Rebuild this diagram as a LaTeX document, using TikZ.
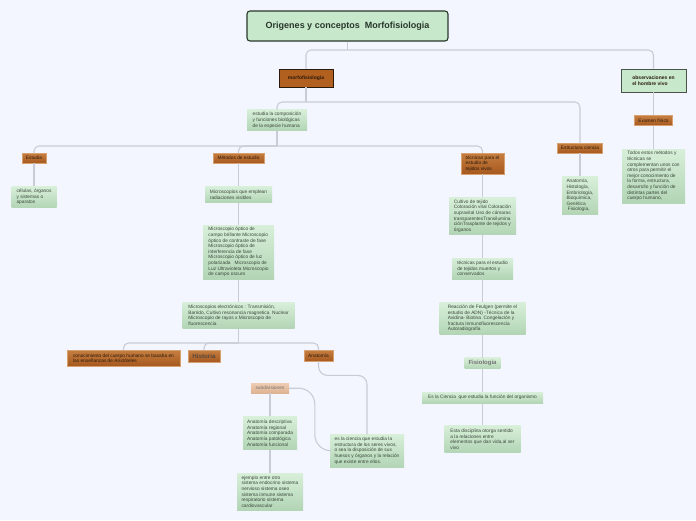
\documentclass[tikz,border=0pt]{standalone}
\usepackage{fontspec}
\setmainfont{Liberation Sans}
\usepackage{xcolor}
\usepackage{tikz}
\usetikzlibrary{positioning}
\definecolor{mapbg}{RGB}{243,246,254}
\definecolor{maptitle}{RGB}{200,232,204}
\definecolor{mapedge}{RGB}{40,54,42}
\definecolor{leaftop}{RGB}{216,239,217}
\definecolor{leafbot}{RGB}{178,213,181}
\definecolor{rusttop}{RGB}{198,126,64}
\definecolor{rustbot}{RGB}{166,88,30}
\definecolor{rustline}{RGB}{214,160,112}
\definecolor{rustdark}{RGB}{178,96,32}
\definecolor{peachtop}{RGB}{238,204,178}
\definecolor{peachbot}{RGB}{222,178,146}
\definecolor{linkgray}{RGB}{200,204,214}
\definecolor{inkgreen}{RGB}{58,72,58}
\definecolor{inkbrown}{RGB}{42,26,12}
\tikzstyle{titlebox} = [rectangle, rounded corners=3pt,
fill=maptitle, draw=mapedge, line width=1.1pt,
minimum width=201pt, minimum height=30pt,
font=\fontsize{9}{11}\selectfont\bfseries, text=mapedge]
\tikzstyle{rootbox} = [rectangle, fill=rustdark, draw=inkbrown, line width=0.9pt,
font=\fontsize{5}{6}\selectfont\bfseries, text=inkbrown]
\tikzstyle{viewbox} = [rectangle, fill=maptitle, draw=mapedge!85, line width=0.9pt,
align=left, font=\fontsize{5}{5.8}\selectfont\bfseries, text=inkbrown]
\tikzstyle{rustbox} = [rectangle, top color=rusttop, bottom color=rustbot,
draw=rustline, line width=0.4pt, inner sep=1.5pt,
align=left, font=\fontsize{4.8}{5.6}\selectfont, text=inkbrown]
\tikzstyle{peachbox} = [rectangle, top color=peachtop, bottom color=peachbot,
inner sep=1.5pt, font=\fontsize{4.8}{5.6}\selectfont, text=black!55]
\tikzstyle{leafbox} = [rectangle, top color=leaftop, bottom color=leafbot,
inner xsep=3pt, inner ysep=2pt,
align=left, font=\fontsize{4.8}{5.6}\selectfont, text=inkgreen]
\tikzstyle{link} = [draw=linkgray, line width=1.1pt, rounded corners=5pt]

\begin{document}
\begin{tikzpicture}[x=1pt, y=1pt, node distance=23pt]
    \fill[mapbg] (0,0) rectangle (696,-520);
    \useasboundingbox (0,0) rectangle (696,-520);

    \node (title) [titlebox] at (347.5,-26) {Origenes y conceptos~ Morfofisiologia};
    \node (morfo) [rootbox, minimum width=54pt, minimum height=18pt] at (306,-78)
    {morfofisiologia};
    \node (obs) [viewbox, minimum width=65pt, minimum height=23pt] at (653.5,-80.5)
    {observaciones en\\el hombre vivo};
    \node (comp) [leafbox, minimum width=60pt, minimum height=21pt,
    below=22pt of morfo, xshift=-29pt]
    {estudia la composición\\y funciones biológicas\\de la especie humana};

    % second row
    \node (estudia) [rustbox, minimum width=24pt, minimum height=10pt, anchor=north]
    at (34,-153) {Estudia};
    \node (metodos) [rustbox, minimum width=51pt, minimum height=10pt, anchor=north]
    at (238.5,-153) {Métodos de estudio};
    \node (vivos) [rustbox, minimum width=43pt, minimum height=21pt, anchor=north]
    at (482.5,-153) {técnicas para el\\estudio de\\tejidos vivos};
    \node (estr) [rustbox, minimum width=45pt, minimum height=10pt, anchor=north]
    at (580,-143) {Estructura ciencia};
    \node (examen) [rustbox, minimum width=38pt, minimum height=10pt, below=of obs]
    {Examen físico};

    \node (celulas) [leafbox, minimum width=45pt, minimum height=21pt, below=of estudia]
    {células, órganos\\y sistemas o\\aparatos};
    \node (visibles) [leafbox, minimum width=67pt, minimum height=16pt, below=of metodos]
    {Microscopios que emplean\\radiaciones visibles};
    \node (optico) [leafbox, minimum width=71pt, minimum height=54pt, below=22pt of visibles]
    {Microscopio óptico de\\campo brillante Microscopio\\óptico de contraste de fase\\
    Microscopio óptico de\\interferencia de fase\\Microscopio óptico de luz\\
    polarizada~ ~Microscopio de\\Luz Ultravioleta Microscopio\\de campo oscuro};
    \node (electro) [leafbox, minimum width=112pt, minimum height=26pt, below=of optico]
    {Microscopios electrónicos : Transmisión,\\Barrido, Cultivo resonancia magnetica~ Nuclear\\
    Microscopio de rayos x Microscopio de\\fluorescencia};

    \node (aristo) [rustbox, minimum width=113pt, minimum height=16pt, anchor=north]
    at (123.5,-350) {conocimiento del cuerpo humano se basaba en\\las enseñanzas de Aristóteles};
    \node (historia) [rustbox, font=\fontsize{6.2}{7}\selectfont\bfseries, text=inkbrown!80,
    minimum width=32pt, minimum height=12pt, anchor=north] at (204,-350) {Historia};
    \node (anatomia) [rustbox, minimum width=29pt, minimum height=11pt, anchor=north]
    at (318.5,-350) {Anatomía};

    \node (subdiv) [peachbox, minimum width=38pt, minimum height=10pt, anchor=north]
    at (270,-383) {subdivisiones};
    \node (ramas) [leafbox, minimum width=54pt, minimum height=33pt, below=of subdiv]
    {Anatomía descriptiva\\Anatomía regional\\Anatomía comparada\\Anatomía patológica\\Anatomía funcional};
    \node (sistemas) [leafbox, minimum width=66pt, minimum height=37pt, below=of ramas]
    {ejemplo entre otro\\sistema endocrino sistema\\nervioso sistema oseo\\
    sistema inmune sistema\\respiratorio sistema\\cardiovascular};
    \node (ciencia) [leafbox, minimum width=74pt, minimum height=33pt, anchor=north]
    at (367,-434) {es la ciencia que estudia la\\estructura de los seres vivos,\\
    o sea la disposición de sus\\huesos y órganos y la relación\\que existe entre ellos.};

    % right column
    \node (cultivo) [leafbox, minimum width=67pt, minimum height=37pt, below=of vivos]
    {Cultivo de tejido\\Coloración vital Coloración\\supravital Uso de cámaras\\
    transparentesTransilumina\\ciónTrasplante de tejidos y\\órganos};
    \node (muertos) [leafbox, minimum width=61pt, minimum height=21pt, below=of cultivo]
    {técnicas para el estudio\\de tejidos muertos y\\conservados};
    \node (feulgen) [leafbox, minimum width=86pt, minimum height=32pt, below=of muertos]
    {Reacción de Feulgen (permite el\\estudio de ADN) -Técnica de la\\
    Avidina- Biotina~ Congelación y\\fractura Inmunofluorescencia\\Autoradiografía};
    \node (fisio) [leafbox, font=\fontsize{6}{7}\selectfont\bfseries, text=black!55,
    minimum width=36pt, minimum height=11pt, below=of feulgen] {Fisiologia};
    \node (funcion) [leafbox, minimum width=121pt, minimum height=11pt, below=of fisio]
    {Es la Ciencia~ que estudia la función del organismo};
    \node (sentido) [leafbox, minimum width=76pt, minimum height=27pt, below=22pt of funcion]
    {Esta disciplina otorga sentido\\a la relaciones entre\\elementos que dan vida,al ser\\vivo};

    \node (disciplinas) [leafbox, minimum width=36pt, minimum height=38pt, below=of estr]
    {Anatomía,\\Histología,\\Embriología,\\Bioquímica,\\Genética\\\ Fisiología,};
    \node (todos) [leafbox, minimum width=63pt, minimum height=54pt, below=of examen]
    {Todos estos métodos y\\técnicas se\\complementan unos con\\otros para permitir el\\
    mejor conocimiento de\\la forma, estructura,\\desarrollo y función de\\
    distintas partes del\\cuerpo humano,};

    % connectors
    \coordinate (j1) at (title.south |- 0,-50);
    \coordinate (j2) at (morfo.south |- 0,-102);
    \coordinate (j3) at (comp.south |- 0,-146);
    \coordinate (j4) at (electro.south |- 0,-343);
    \coordinate (cbend) at ([xshift=-15pt]ciencia.west);

    \draw[link] (title.south) -- (j1);
    \draw[link] (j1) -| (morfo.north);
    \draw[link] (j1) -| (obs.north);
    \draw[link] (morfo.south) -- (j2);
    \draw[link] (j2) -| (comp.north);
    \draw[link] (j2) -| (estr.north);
    \draw[link] (comp.south) -- (j3);
    \draw[link] (j3) -| (estudia.north);
    \draw[link] (j3) -| (metodos.north);
    \draw[link] (j3) -| (vivos.north);
    \draw[link] (electro.south) -- (j4);
    \draw[link] (j4) -| (aristo.north);
    \draw[link] (j4) -| (historia.north);
    \draw[link] (j4) -| (anatomia.north);
    \draw[link, rounded corners=9pt] (anatomia.south) -- ++(0,-14) -| (ciencia.north);
    \draw[link] (subdiv.east) [rounded corners=16pt] -| (cbend)
        [rounded corners=4pt] -- (ciencia.west);

    \draw[link] (estudia.south) -- (celulas.north);
    \draw[link] (metodos.south) -- (visibles.north);
    \draw[link] (visibles.south) -- (optico.north);
    \draw[link] (optico.south) -- (electro.north);
    \draw[link] (subdiv.south) -- (ramas.north);
    \draw[link] (ramas.south) -- (sistemas.north);
    \draw[link] (vivos.south) -- (cultivo.north);
    \draw[link] (cultivo.south) -- (muertos.north);
    \draw[link] (muertos.south) -- (feulgen.north);
    \draw[link] (feulgen.south) -- (fisio.north);
    \draw[link] (fisio.south) -- (funcion.north);
    \draw[link] (funcion.south) -- (sentido.north);
    \draw[link] (estr.south) -- (disciplinas.north);
    \draw[link] (obs.south) -- (examen.north);
    \draw[link] (examen.south) -- (todos.north);
\end{tikzpicture}
\end{document}
